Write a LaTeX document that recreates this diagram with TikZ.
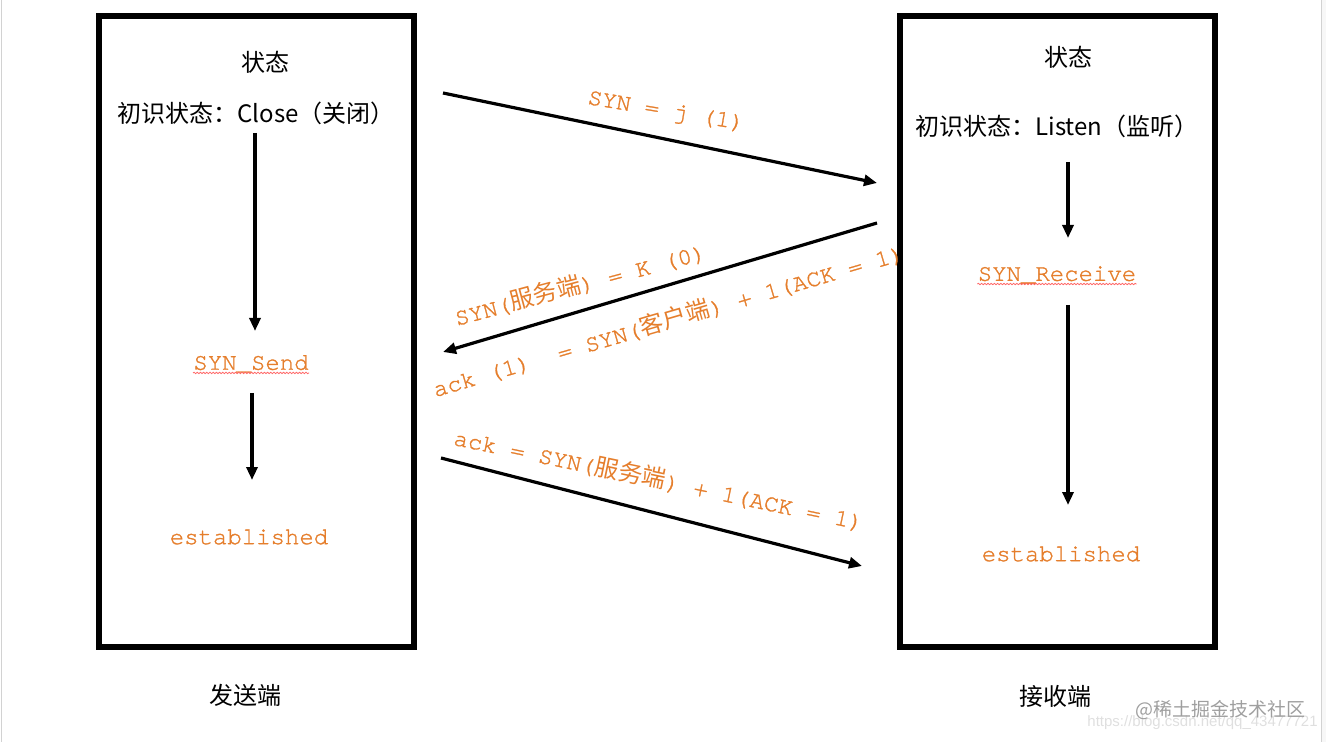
\documentclass[tikz,border=0pt]{standalone}
\usepackage{fontspec}
\setmainfont{Noto Sans CJK SC}
\newfontfamily\zhfont{Noto Sans CJK SC}
\newfontfamily\monofont[FakeBold=1.2]{TeX Gyre Cursor}
\newfontfamily\urlfont{Liberation Sans}
\usetikzlibrary{arrows.meta,decorations.pathmorphing}
\definecolor{wordorange}{HTML}{E57E2C}
\newcommand{\zhc}[1]{{\zhfont #1}}
\begin{document}
\begin{tikzpicture}[x=0.5pt,y=-0.5pt,
  frame/.style={draw=black,line width=3pt,minimum width=157.5pt,minimum height=315.5pt,inner sep=0pt},
  zh/.style={font=\fontsize{12}{14}\zhfont, text=black, inner sep=0pt},
  code/.style={font=\fontsize{12}{14}\monofont, text=wordorange, inner sep=0pt},
  flow/.style={line width=1.6pt, -{Triangle[length=6.5pt,width=5.5pt]}},
  spell/.style={draw=red!60, line width=0.4pt, decorate, decoration={snake, amplitude=0.35pt, segment length=1.6pt}},
]
\useasboundingbox (0,0) rectangle (1326,742);
% page edges
\fill[gray!6] (1322,0) rectangle (1326,742);
\draw[gray!35, line width=0.75pt] (1.5,0) -- (1.5,742);
\draw[gray!35, line width=0.75pt] (1321.5,0) -- (1321.5,742);

% boxes
\node[frame] (sendbox) at (256.5,331.5) {};
\node[frame] (recvbox) at (1057,331.5) {};

% sender texts
\node[zh] (lstate) at (265,62) {状态};
\node[zh] (linit) at (256,113) {初识状态：Close（关闭）};
\node[code] (lsend) at (251,364) {SYN\_Send};
\node[code] (lest) at (249,537) {established};
\draw[spell] ([yshift=-1.6pt]lsend.base west) -- ([yshift=-1.6pt]lsend.base east);

% receiver texts
\node[zh] (rstate) at (1068,57) {状态};
\node[zh] (rinit) at (1057,126) {初识状态：Listen（监听）};
\node[code] (rrecv) at (1057,275) {SYN\_Receive};
\node[code] (rest) at (1061,554) {established};
\draw[spell] ([yshift=-1.6pt]rrecv.base west) -- ([yshift=-1.6pt]rrecv.base east);

% captions
\node[zh] (sender) at (245,695) {发送端};
\node[zh] (receiver) at (1055,696) {接收端};

% vertical arrows
\coordinate (a1s) at (255,133); \coordinate (a1e) at (255,331);
\coordinate (a2s) at (252,393); \coordinate (a2e) at (252,480);
\coordinate (a3s) at (1068,162); \coordinate (a3e) at (1068,238);
\coordinate (a4s) at (1068,305); \coordinate (a4e) at (1068,505);
\draw[flow] (a1s) -- (a1e);
\draw[flow] (a2s) -- (a2e);
\draw[flow] (a3s) -- (a3e);
\draw[flow] (a4s) -- (a4e);

% diagonal arrows
\coordinate (d1s) at (443,93);  \coordinate (d1e) at (877,183);
\coordinate (d2s) at (877,223); \coordinate (d2e) at (443,352);
\coordinate (d3s) at (441,458); \coordinate (d3e) at (862,566);
\draw[flow] (d1s) -- (d1e);
\draw[flow] (d2s) -- (d2e);
\draw[flow] (d3s) -- (d3e);

% labels
\node[code, rotate=-9.5] (lab1) at (666,112) {SYN = j (1)};
\node[code, rotate=15] (lab2) at (580,284) {SYN(\zhc{服务端}) = K (0)};
\node[code, rotate=16.3] (lab3) at (668,320) {ack (1)\ \ = SYN(\zhc{客户端}) + 1(ACK = 1)};
\node[code, rotate=-11.8] (lab4) at (659,479) {ack = SYN(\zhc{服务端}) + 1(ACK = 1)};

% watermark
\node[font=\fontsize{7.5}{9}\urlfont, text=gray!25, inner sep=0pt, anchor=east] (url) at (1318,723) {https://blog.csdn.net/qq\_43477721};
\node[font=\fontsize{9.5}{11}\zhfont, text=gray!75, inner sep=0pt, anchor=east] (mark) at (1306,710) {@稀土掘金技术社区};
\end{tikzpicture}
\end{document}
